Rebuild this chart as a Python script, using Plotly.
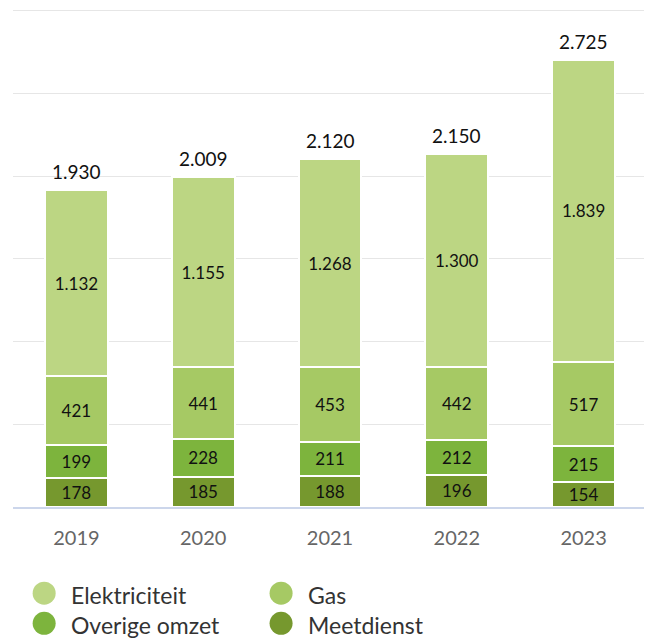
import plotly.graph_objects as go

years = ["2019", "2020", "2021", "2022", "2023"]
meetdienst = [178, 185, 188, 196, 154]
overige_omzet = [199, 228, 211, 212, 215]
gas = [421, 441, 453, 442, 517]
elektriciteit = [1132, 1155, 1268, 1300, 1839]

series = [
    ("Meetdienst", meetdienst, "#76982e"),
    ("Overige omzet", overige_omzet, "#7db43d"),
    ("Gas", gas, "#a6c964"),
    ("Elektriciteit", elektriciteit, "#bcd683"),
]
legend_order = ["Elektriciteit", "Gas", "Overige omzet", "Meetdienst"]
colors = {n: c for n, _, c in series}

# page body has an 8px margin; work in reference pixels and subtract it
OFF = 8
W, H = 652 - OFF, 639 - OFF
YMAX, GRID = 3040, 504
base_py = 507.5 - OFF          # pixel of value 0
top_grid_py = 11 - OFF         # pixel of top gridline (6 * GRID)
PH = (base_py - top_grid_py) * YMAX / (6 * GRID)
MT = base_py - PH
MB = H - base_py
ML = 12.5 - OFF
MR = W - (647.5 - OFF)
PW = W - ML - MR
FONT = "Lato"

fig = go.Figure()
for name, vals, col in series:
    fig.add_trace(go.Bar(
        x=years, y=vals, name=name,
        marker=dict(color=col, line=dict(color="white", width=2)),
        texttemplate="%{y:,}", textposition="inside",
        insidetextanchor="middle", textangle=0,
        textfont=dict(family=FONT, size=17, color="#111111"),
        hoverinfo="skip", showlegend=False,
    ))

totals = [sum(v) for v in zip(meetdienst, overige_omzet, gas, elektriciteit)]
annotations = []
for i, t in enumerate(totals):
    annotations.append(dict(
        x=i, y=t, xref="x", yref="y", text=f"{t:,}".replace(",", "."),
        showarrow=False, yanchor="bottom", yshift=5,
        font=dict(family=FONT, size=19, color="#111111"),
    ))

def px_to_paper(px, py):
    px -= OFF
    py -= OFF
    return (px - ML) / PW, (base_py - py) / PH

shapes = []
leg_pos = {
    "Elektriciteit": (43.7, 593.7),
    "Gas": (281, 593.7),
    "Overige omzet": (43.7, 623.8),
    "Meetdienst": (281, 623.8),
}
for name in legend_order:
    cx, cy = leg_pos[name]
    xp, yp = px_to_paper(cx, cy)
    shapes.append(dict(
        type="circle", xref="paper", yref="paper",
        xsizemode="pixel", ysizemode="pixel", xanchor=xp, yanchor=yp,
        x0=-11.5, x1=11.5, y0=-11.5, y1=11.5,
        fillcolor=colors[name], line=dict(width=0),
    ))
    tx, ty = px_to_paper(cx + 24.5, cy + 1.5)
    annotations.append(dict(
        x=tx, y=ty, xref="paper", yref="paper", text=name,
        showarrow=False, xanchor="left", yanchor="middle",
        font=dict(family=FONT, size=23, color="#333333"),
    ))

fig.update_layout(
    width=W, height=H, barmode="stack", bargap=0.505,
    margin=dict(l=ML, r=MR, t=MT, b=MB, pad=0, autoexpand=False),
    plot_bgcolor="white", paper_bgcolor="white",
    separators=",.",
    uniformtext=dict(minsize=17, mode="show"),
    showlegend=False,
    annotations=annotations, shapes=shapes,
    xaxis=dict(
        type="category", automargin=False, range=[-0.5, len(years) - 0.5],
        showline=True, linecolor="#ccd6eb", linewidth=1.5,
        ticks="outside", ticklen=12, tickcolor="rgba(0,0,0,0)",
        tickfont=dict(family=FONT, size=20, color="#666666"),
        showgrid=False, fixedrange=True,
    ),
    yaxis=dict(
        range=[0, YMAX], dtick=GRID, showticklabels=False, automargin=False,
        showgrid=True, gridcolor="#e6e6e6", gridwidth=1,
        zeroline=False, showline=False, fixedrange=True,
    ),
)

fig.write_html("out.html")
